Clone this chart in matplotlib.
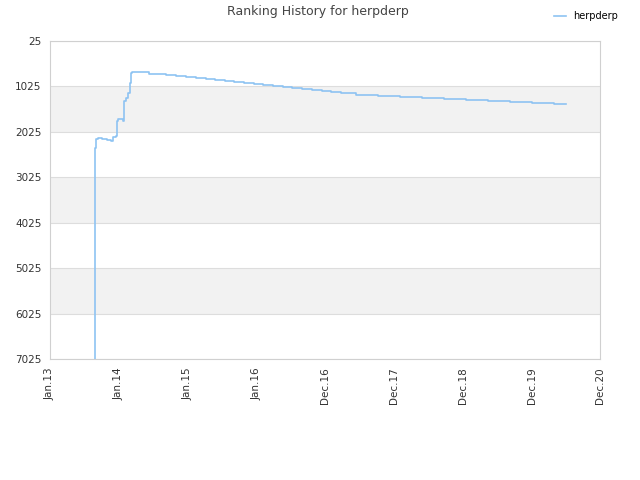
import matplotlib
matplotlib.use("Agg")
import matplotlib.pyplot as plt

# x in tick units since Jan.13 (tick positions are evenly spaced), y = rank
years = [0.647, 0.650, 0.655, 0.669, 0.698, 0.757, 0.829, 0.887, 0.917, 0.960,
         0.975, 0.989, 1.062, 1.077, 1.105, 1.135, 1.163, 1.178, 1.193,
         1.440, 1.687, 1.833, 1.978, 2.124, 2.270, 2.400, 2.545, 2.677, 2.822,
         2.967, 3.098, 3.244, 3.389, 3.520, 3.665, 3.812, 3.957, 4.087, 4.233,
         4.452, 4.772, 5.092, 5.412, 5.732, 6.052, 6.372, 6.692, 7.012, 7.332,
         7.506]
ranks = [7500, 2644, 2380, 2182, 2160, 2193, 2211, 2226, 2138, 2116,
         1786, 1753, 1786, 1346, 1280, 1169, 949, 729, 707,
         745, 767, 789, 817, 839, 861, 883, 905, 927, 949,
         971, 993, 1015, 1037, 1059, 1081, 1103, 1125, 1147, 1169,
         1207, 1229, 1251, 1273, 1295, 1317, 1339, 1361, 1383, 1405,
         1405]

xtick_labels = ["Jan.13", "Jan.14", "Jan.15", "Jan.16", "Dec.16",
                "Dec.17", "Dec.18", "Dec.19", "Dec.20"]
ytick_values = [25, 1025, 2025, 3025, 4025, 5025, 6025, 7025]
series_name = "herpderp"

fig = plt.figure(figsize=(6.4, 4.8), dpi=100)
ax = fig.add_axes([0.078, 0.252, 0.86, 0.663])

# alternating bands
for i in range(len(ytick_values) - 1):
    if i % 2 == 1:
        ax.axhspan(ytick_values[i], ytick_values[i + 1], color="#f2f2f2", lw=0, zorder=0)
for v in ytick_values:
    ax.axhline(v, color="#dddddd", lw=0.8, zorder=1)

ax.plot(years, ranks, color="#8ec3f2", lw=1.2, drawstyle="steps-post",
        zorder=3, label=series_name)

ax.set_xlim(0, 8)
ax.set_ylim(7025, 25)
ax.set_xticks(range(len(xtick_labels)))
ax.set_xticklabels(xtick_labels, rotation=90, fontsize=7.5, color="#333333")
ax.set_yticks(ytick_values)
ax.set_yticklabels([str(v) for v in ytick_values], fontsize=7.5, color="#333333")
ax.tick_params(length=0, pad=6)
for s in ax.spines.values():
    s.set_color("#d0d0d0")
    s.set_linewidth(0.8)

fig.text(0.497, 0.975, "Ranking History for herpderp", ha="center", va="center",
         fontsize=9, color="#444444")
fig.legend(loc="upper right", bbox_to_anchor=(0.98, 0.995), frameon=False,
           fontsize=7, handlelength=1.2, handletextpad=0.8)

fig.savefig("out.png", dpi=100)
